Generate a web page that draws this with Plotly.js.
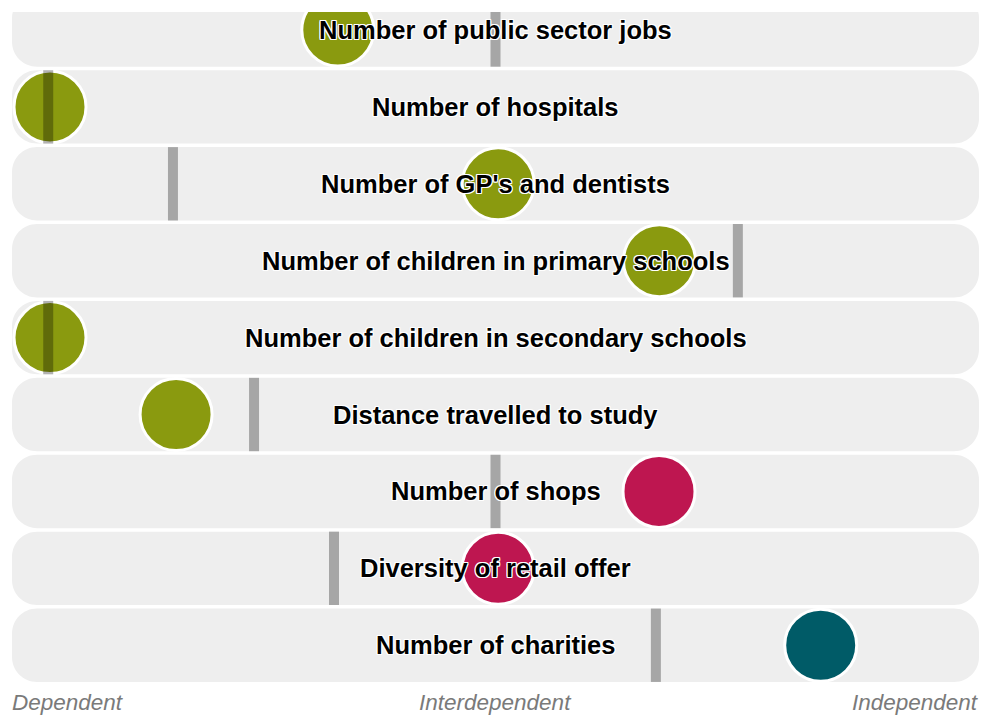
<!DOCTYPE html>
<html>
<head>
<meta charset="utf-8">
<script src="https://cdn.plot.ly/plotly-3.0.1.min.js"></script>
<style>html,body{margin:0;padding:0;background:#fff;}#chart{width:983px;height:716px;}</style>
</head>
<body>
<div id="chart"></div>
<script>
// ---- data ----
var categories = [
  "Number of public sector jobs",
  "Number of hospitals",
  "Number of GP's and dentists",
  "Number of children in primary schools",
  "Number of children in secondary schools",
  "Distance travelled to study",
  "Number of shops",
  "Diversity of retail offer",
  "Number of charities"
];
// circle position (-1 = Dependent, 0 = Interdependent, 1 = Independent)
var circleValues = [-0.354, -1.0, 0.006, 0.368, -1.0, -0.717, 0.367, 0.006, 0.73];
// grey marker position on the same scale
var barValues = [0.0, -1.004, -0.724, 0.544, -1.004, -0.542, 0.0, -0.3625, 0.36];
// theme group per row
var groups = ["olive", "olive", "olive", "olive", "olive", "olive", "crimson", "crimson", "teal"];
var axisLabels = ["Dependent", "Interdependent", "Independent"];

// ---- styling ----
var groupColors = {olive: "#8a9a0f", crimson: "#be1650", teal: "#005b67"};
var W = 983, H = 716;
var margin = {l: 12, r: 4, t: 12, b: 34};
var xPad = 1.0853;
var yTop = -0.234, yBottom = 8.478;
var plotW = W - margin.l - margin.r, plotH = H - margin.t - margin.b;
var pxX = plotW / (2 * xPad), pxY = plotH / (yBottom - yTop);
var halfRow = 36.7 / pxY;
var radius = 25;
var rx = radius / pxX, ry = radius / pxY, k = 0.5523;

function roundedRow(i) {
  var x0 = -xPad, x1 = xPad, y0 = i - halfRow, y1 = i + halfRow;
  var p = "M" + (x0 + rx) + "," + y0 +
    " L" + (x1 - rx) + "," + y0 +
    " C" + (x1 - rx + k * rx) + "," + y0 + " " + x1 + "," + (y0 + ry - k * ry) + " " + x1 + "," + (y0 + ry) +
    " L" + x1 + "," + (y1 - ry) +
    " C" + x1 + "," + (y1 - ry + k * ry) + " " + (x1 - rx + k * rx) + "," + y1 + " " + (x1 - rx) + "," + y1 +
    " L" + (x0 + rx) + "," + y1 +
    " C" + (x0 + rx - k * rx) + "," + y1 + " " + x0 + "," + (y1 - ry + k * ry) + " " + x0 + "," + (y1 - ry) +
    " L" + x0 + "," + (y0 + ry) +
    " C" + x0 + "," + (y0 + ry - k * ry) + " " + (x0 + rx - k * rx) + "," + y0 + " " + (x0 + rx) + "," + y0 + " Z";
  return p;
}

var rows = categories.map(function (c, i) { return i; });
var shapes = [];
rows.forEach(function (i) {
  shapes.push({type: "path", xref: "x", yref: "y", path: roundedRow(i),
    fillcolor: "#eeeeee", line: {width: 0}, layer: "below"});
});
rows.forEach(function (i) {
  shapes.push({type: "rect", xref: "x", yref: "y", xsizemode: "pixel", xanchor: barValues[i],
    x0: -5, x1: 5, y0: i - halfRow, y1: i + halfRow,
    fillcolor: "rgba(0,0,0,0.3)", line: {width: 0}, layer: "above"});
});

var annotations = categories.map(function (c, i) {
  return {x: 0, y: i, xref: "x", yref: "y", text: c, showarrow: false,
    xanchor: "center", yanchor: "middle",
    font: {family: "Liberation Sans, Arial, sans-serif", size: 25.5, weight: "bold", color: "#000",
      shadow: "1px 1px 0 #fff, -1px -1px 0 #fff, 1px -1px 0 #fff, -1px 1px 0 #fff, 0 1px 0 #fff, 0 -1px 0 #fff, 1px 0 0 #fff, -1px 0 0 #fff"}};
});
var labelX = [0, 0.5, 1], labelAnchor = ["left", "center", "right"], labelShift = [-2, 0, 2];
axisLabels.forEach(function (t, j) {
  annotations.push({x: labelX[j], y: 0, xref: "paper", yref: "paper", yanchor: "top", yshift: -6,
    xanchor: labelAnchor[j], xshift: labelShift[j], text: t, showarrow: false,
    font: {family: "Liberation Sans, Arial, sans-serif", size: 22.5, style: "italic", color: "#7a7a7a"}});
});

var trace = {
  type: "scatter", mode: "markers",
  x: circleValues, y: rows,
  marker: {size: 72, color: groups.map(function (g) { return groupColors[g]; }),
    line: {color: "#ffffff", width: 3}, opacity: 1},
  hoverinfo: "skip", cliponaxis: true
};

var layout = {
  width: W, height: H, margin: margin,
  paper_bgcolor: "#fff", plot_bgcolor: "rgba(0,0,0,0)",
  showlegend: false,
  xaxis: {range: [-xPad, xPad], visible: false, fixedrange: true},
  yaxis: {range: [yBottom, yTop], visible: false, fixedrange: true},
  shapes: shapes, annotations: annotations
};
Plotly.newPlot("chart", [trace], layout, {displayModeBar: false, staticPlot: true});
</script>
</body>
</html>
